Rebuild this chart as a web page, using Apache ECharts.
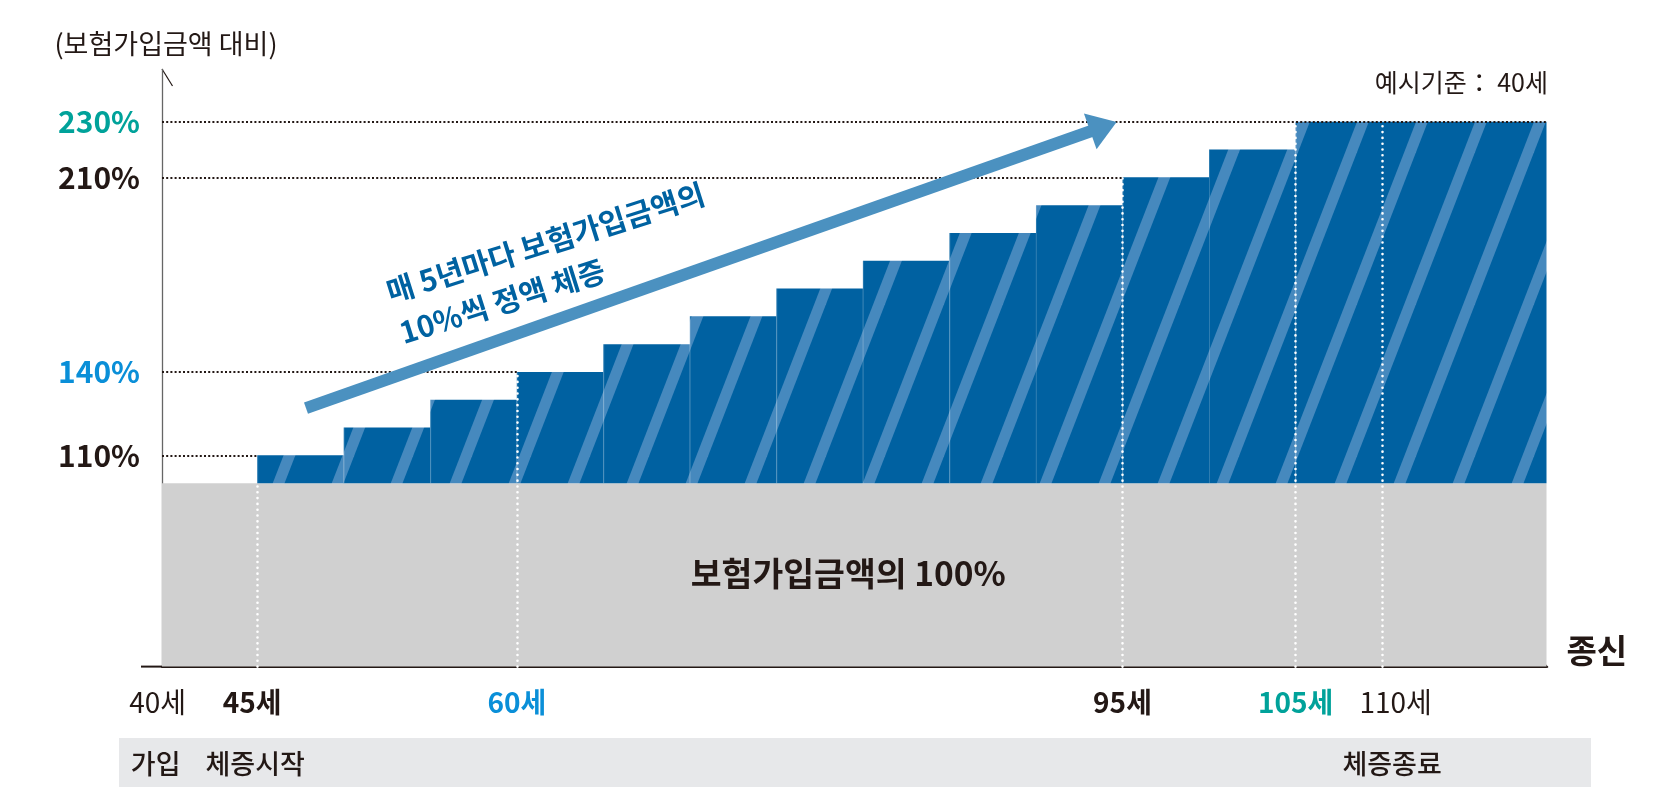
<!DOCTYPE html>
<html>
<head>
<meta charset="utf-8">
<title>체증형 보험가입금액</title>
<script src="https://cdn.jsdelivr.net/npm/echarts@6/dist/echarts.min.js"></script>
<style>
  html, body { margin: 0; padding: 0; background: #fff; }
  #chart { width: 1672px; height: 800px; }
</style>
</head>
<body>
<div id="chart"></div>
<script>
// 데이터
var stepStartAges = [45, 50, 55, 60, 65, 70, 75, 80, 85, 90, 95, 100, 105];
var stepLevels = [110, 120, 130, 140, 150, 160, 170, 180, 190, 200, 210, 220, 230];
var baseLevel = 100;

var ageTicks = [40, 45, 60, 95, 105, 110];
var ageTickLabels = ['40세', '45세', '60세', '95세', '105세', '110세'];
var phaseAges = [40, 45, 110];
var phaseLabels = ['가입', '체증시작', '체증종료'];
var levelTicks = [110, 140, 210, 230];
var levelTickLabels = ['110%', '140%', '210%', '230%'];

var markerAges = [45, 60, 95, 105, 110];
var markerLevels = [100, 140, 210, 230, 230];
var guideLevels = [110, 140, 210, 230];
var guideEndAges = [45, 60, 95, 119.5];

var ageMin = 39.5, ageMax = 119.5;
var levelMin = 34, levelMax = 248.8;

var FONT = '"Noto Sans CJK KR", "Noto Sans", sans-serif';
var INK = '#231815';
var BLUE = '#0061a1';

// 사선 패턴
function makeStripe() {
  var W = 59, H = 152;
  var c = document.createElement('canvas');
  c.width = W; c.height = H;
  var ctx = c.getContext('2d');
  ctx.fillStyle = BLUE;
  ctx.fillRect(0, 0, W, H);
  ctx.strokeStyle = '#4689be';
  ctx.lineWidth = 11;
  for (var k = -2; k <= 2; k++) {
    var x0 = -5.8 + k * W;
    ctx.beginPath();
    ctx.moveTo(x0 - W * 0.5, H * 1.5);
    ctx.lineTo(x0 + W * 1.5, -H * 0.5);
    ctx.stroke();
  }
  return c;
}
var stripe = makeStripe();

var steps = stepStartAges.map(function (a, i) {
  var end = i < stepStartAges.length - 1 ? stepStartAges[i + 1] : ageMax;
  return [a, end, stepLevels[i]];
});

var ageRich = {
  t0: { color: INK, fontSize: 28, padding: [0, 26, 0, 0] },
  t1: { color: INK, fontSize: 28, fontWeight: 'bold', padding: [0, 10, 0, 0] },
  t2: { color: '#0a8fd8', fontSize: 28, fontWeight: 'bold' },
  t3: { color: INK, fontSize: 28, fontWeight: 'bold' },
  t4: { color: '#00a29a', fontSize: 28, fontWeight: 'bold' },
  t5: { color: INK, fontSize: 28, padding: [0, 0, 0, 27] }
};
var phaseRich = {
  p0: { color: INK, fontSize: 27, fontWeight: 500, padding: [0, 30, 0, 0] },
  p1: { color: INK, fontSize: 27, fontWeight: 500, padding: [0, 4, 0, 0] },
  p2: { color: INK, fontSize: 27, fontWeight: 500, padding: [0, 0, 0, 20] }
};
var levelRich = {
  l0: { color: INK, fontSize: 30, fontWeight: 'bold' },
  l1: { color: '#0a8fd8', fontSize: 30, fontWeight: 'bold' },
  l2: { color: INK, fontSize: 30, fontWeight: 'bold' },
  l3: { color: '#00a29a', fontSize: 30, fontWeight: 'bold' }
};

var markLines = [];
markerAges.forEach(function (a, i) {
  markLines.push([
    { coord: [a, levelMin], lineStyle: { color: '#fff', width: 2.6, type: [0.01, 5.8], cap: 'round' } },
    { coord: [a, markerLevels[i]] }
  ]);
});
guideLevels.forEach(function (v, i) {
  markLines.push([
    { coord: [ageMin, v], lineStyle: { color: INK, width: 2, type: [2, 2.2] } },
    { coord: [guideEndAges[i], v] }
  ]);
});

var chart = echarts.init(document.getElementById('chart'));
chart.setOption({
  animation: false,
  textStyle: { fontFamily: FONT },
  grid: { left: 162, right: 125.5, top: 69.5, bottom: 133.4 },
  xAxis: [{
    type: 'value', min: ageMin, max: ageMax,
    name: '종신', nameLocation: 'end', nameGap: 20,
    nameTextStyle: { fontSize: 33, fontWeight: 'bold', color: INK, verticalAlign: 'bottom', lineHeight: 33 },
    axisLine: { show: true, lineStyle: { color: INK, width: 2 } },
    axisTick: { show: false },
    splitLine: { show: false },
    axisLabel: {
      customValues: ageTicks, margin: 22,
      formatter: function (v) {
        var i = ageTicks.indexOf(v);
        return '{t' + i + '|' + ageTickLabels[i] + '}';
      },
      rich: ageRich
    }
  }, {
    type: 'value', min: ageMin, max: ageMax, position: 'bottom',
    axisLine: { show: false }, axisTick: { show: false }, splitLine: { show: false },
    axisLabel: {
      customValues: phaseAges, margin: 84,
      formatter: function (v) {
        var i = phaseAges.indexOf(v);
        return '{p' + i + '|' + phaseLabels[i] + '}';
      },
      rich: phaseRich
    }
  }],
  yAxis: {
    type: 'value', min: levelMin, max: levelMax,
    name: '(보험가입금액 대비)', nameLocation: 'end', nameGap: 25.5,
    nameTextStyle: { fontSize: 27, color: INK, align: 'center', verticalAlign: 'middle', padding: [0, 0, 0, 8] },
    axisLine: { show: true, lineStyle: { color: '#666', width: 1.3 } },
    axisTick: { show: false },
    splitLine: { show: false },
    axisLabel: {
      customValues: levelTicks, margin: 22,
      formatter: function (v) {
        var i = levelTicks.indexOf(v);
        return '{l' + i + '|' + levelTickLabels[i] + '}';
      },
      rich: levelRich
    }
  },
  graphic: [
    { type: 'rect', z: -10, shape: { x: 119, y: 738, width: 1472, height: 49 }, style: { fill: '#e7e8ea' } },
    { type: 'line', shape: { x1: 141, y1: 666.6, x2: 162, y2: 666.6 }, style: { stroke: INK, lineWidth: 2 } },
    { type: 'line', shape: { x1: 162, y1: 69, x2: 172.5, y2: 86 }, style: { stroke: INK, lineWidth: 1.2 } },
    { type: 'line', shape: { x1: 1530, y1: 648, x2: 1548, y2: 667.5 }, style: { stroke: INK, lineWidth: 1.2 } },
    { type: 'text', x: 1548, y: 82, style: { text: '예시기준： 40세', fontSize: 25, fontFamily: FONT, fill: INK, align: 'right', verticalAlign: 'middle' } },
    { type: 'text', x: 381, y: 272, rotation: 17.5 * Math.PI / 180, z: 20,
      style: { text: '매 5년마다 보험가입금액의\n10%씩 정액 체증', fontSize: 29.7, fontWeight: 'bold', fontFamily: FONT,
        fill: '#0062a1', lineHeight: 43, align: 'left', verticalAlign: 'top' } }
  ],
  series: [{
    name: '기본', type: 'custom', z: 1,
    data: [[ageMin, ageMax, baseLevel]],
    renderItem: function (params, api) {
      var p0 = api.coord([api.value(0), api.value(2)]);
      var p1 = api.coord([api.value(1), levelMin]);
      return {
        type: 'group', children: [
          { type: 'rect', shape: { x: p0[0], y: p0[1], width: p1[0] - p0[0], height: p1[1] - p0[1] }, style: { fill: '#d0d0d0' } },
          { type: 'text', x: (p0[0] + p1[0]) / 2 - 6, y: (p0[1] + p1[1]) / 2 - 2,
            style: { text: '보험가입금액의 100%', fontSize: 33.5, fontWeight: 'bold', fontFamily: FONT, fill: INK, align: 'center', verticalAlign: 'middle' } }
        ]
      };
    }
  }, {
    name: '체증', type: 'custom', z: 2,
    data: steps,
    renderItem: function (params, api) {
      var p0 = api.coord([api.value(0), api.value(2)]);
      var p1 = api.coord([api.value(1), baseLevel]);
      return {
        type: 'group', children: [
          { type: 'rect', shape: { x: p0[0], y: p0[1], width: p1[0] - p0[0], height: p1[1] - p0[1] },
            style: { fill: { image: stripe, repeat: 'repeat' } } },
          { type: 'line', shape: { x1: p0[0] + 0.5, y1: p0[1], x2: p0[0] + 0.5, y2: p1[1] },
            style: { stroke: 'rgba(255,255,255,0.16)', lineWidth: 1 } }
        ]
      };
    }
  }, {
    name: '보조선', type: 'line', z: 5, data: [],
    markLine: {
      silent: true, symbol: 'none', label: { show: false },
      data: markLines
    }
  }, {
    name: '화살표', type: 'line', z: 6, data: [],
    markLine: {
      silent: true, label: { show: false },
      lineStyle: { color: '#4b91c0', width: 12, type: 'solid', cap: 'butt' },
      data: [[
        { coord: [47.82, 127.0], symbol: 'none' },
        { coord: [93.9, 228.2], symbol: 'triangle', symbolSize: [38, 28] }
      ]]
    }
  }]
});
</script>
</body>
</html>
